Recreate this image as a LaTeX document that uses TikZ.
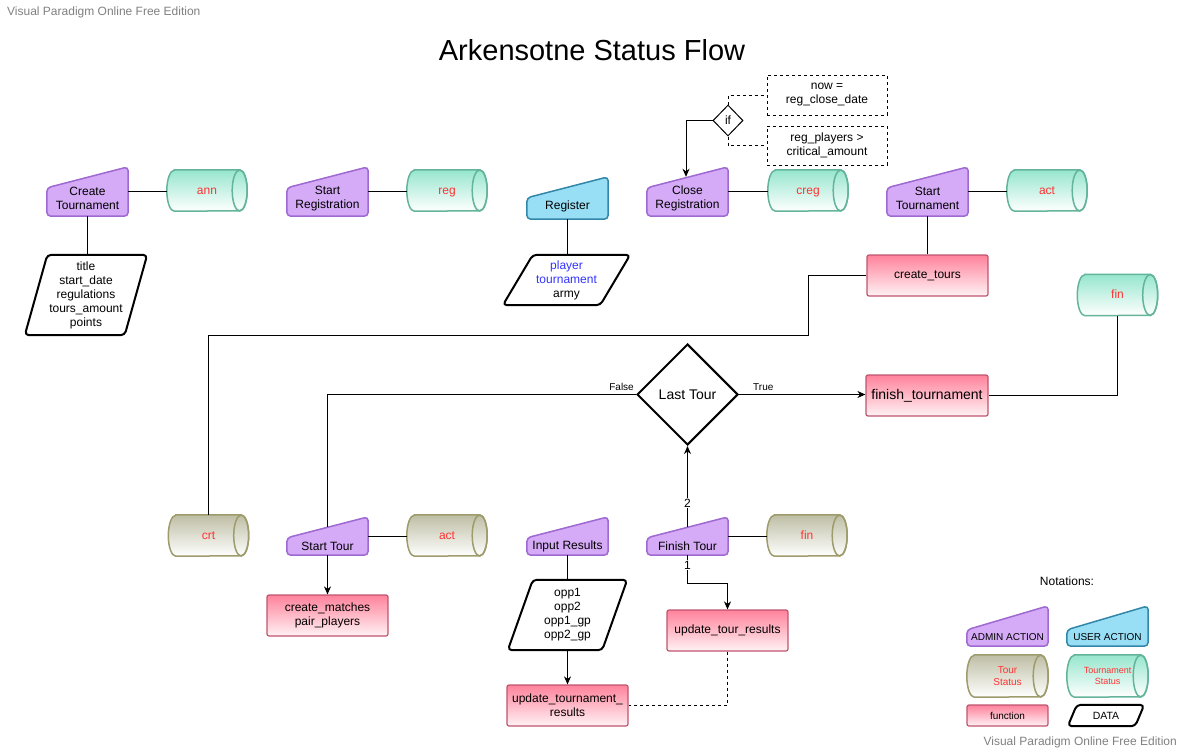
\documentclass[tikz,border=0pt]{standalone}
\usepackage{fontspec}
\setmainfont{Liberation Sans}
\usetikzlibrary{shapes.geometric,arrows.meta}
\pgfdeclarelayer{background}
\pgfsetlayers{background,main}

\definecolor{admfill}{RGB}{213,170,246}
\definecolor{admline}{RGB}{158,105,208}
\definecolor{usrfill}{RGB}{152,223,246}
\definecolor{usrline}{RGB}{50,135,168}
\definecolor{tealtop}{RGB}{150,230,205}
\definecolor{tealline}{RGB}{100,180,155}
\definecolor{olivetop}{RGB}{190,190,165}
\definecolor{oliveline}{RGB}{158,156,108}
\definecolor{pinktop}{RGB}{255,130,155}
\definecolor{pinkbot}{RGB}{255,242,245}
\definecolor{pinkline}{RGB}{190,85,110}
\definecolor{statred}{RGB}{255,51,51}
\definecolor{argblue}{RGB}{51,51,255}
\definecolor{wmgray}{RGB}{128,128,128}

% horizontal cylinder around a named node: node, top colour, line colour, half height
\newcommand\drawcyl[4]{%
  \path[top color=#2, bottom color=white, draw=#3, line width=1.5pt]
    ([xshift=7.5pt]#1.north west) -- ([xshift=-7.5pt]#1.north east)
    arc[start angle=90, end angle=-90, x radius=7.5pt, y radius=#4]
    -- ([xshift=7.5pt]#1.south west)
    arc[start angle=270, end angle=90, x radius=7.5pt, y radius=#4] -- cycle;
  \path[draw=#3, line width=1.5pt] ([xshift=-7.5pt]#1.east) ellipse[x radius=7.5pt, y radius=#4];
}
% slanted parallelogram around a named node: node, horizontal offset
\newcommand\drawdata[2]{%
  \path[draw=black, fill=white, line width=2pt, rounded corners=4pt, line join=round]
    ([xshift=#2]#1.north west) -- (#1.north east) -- ([xshift=-#2]#1.south east)
    -- (#1.south west) -- cycle;
}
% manual-input shape around a named node: node, fill, line, drop of the top edge
\newcommand\drawmanual[4]{%
  \path[fill=#2, draw=#3, line width=1.5pt, rounded corners=4pt, line join=round]
    (#1.south west) -- ([yshift=-#4]#1.north west) -- (#1.north east)
    -- (#1.south east) -- cycle;
}

\begin{document}
\begin{tikzpicture}[x=1pt,y=-1pt,
  txt/.style={font=\fontsize{12}{14}\selectfont, align=center, inner sep=0pt},
  actshape/.style={txt, minimum width=81, minimum height=#1},
  mlbl/.style={txt, yshift=#1},
  cylbase/.style={txt, text=statred, minimum width=80, minimum height=41},
  cyl/.style={cylbase, text height=9pt, text depth=2pt},
  datan/.style={txt, minimum width=#1},
  func/.style={txt, draw=pinkline, line width=1.2pt, rounded corners=2pt,
    top color=pinktop, bottom color=pinkbot, minimum width=121, minimum height=41},
  dashbox/.style={txt, draw, dashed, line width=0.8pt, minimum width=120, minimum height=40},
  conn/.style={draw=black, line width=1pt},
  arr/.style={conn, -{Stealth[length=8pt, width=7pt, inset=2.5pt]}},
  elbl/.style={font=\fontsize{10}{12}\selectfont, inner sep=1pt},
  numlbl/.style={font=\fontsize{12}{14}\selectfont, inner sep=1pt, fill=white},
  wm/.style={font=\fontsize{12}{14}\selectfont, text=wmgray, inner sep=0pt}
]
\useasboundingbox (0,0) rectangle (1183,752);

% headings
\node[wm, anchor=west] (wmtop) at (7,12) {Visual Paradigm Online Free Edition};
\node[wm, anchor=east] (wmbot) at (1177,742) {Visual Paradigm Online Free Edition};
\node[font=\fontsize{29}{34}\selectfont, inner sep=0pt] (title) at (592,50) {Arkensotne Status Flow};

% top row: actions
\node[actshape=49, label={[mlbl=-7pt]center:Create\\Tournament}] (ct) at (87.5,191.5) {};
\node[actshape=49, label={[mlbl=-7pt]center:Start\\Registration}] (sr) at (327.5,191.5) {};
\node[actshape=42, label={[mlbl=-8.5pt]center:Register}] (reg) at (567.5,198) {};
\node[actshape=49, label={[mlbl=-7pt]center:Close\\Registration}] (cr) at (687.5,191.5) {};
\node[actshape=49, label={[mlbl=-7pt]center:Start\\Tournament}] (stt) at (927.5,191.5) {};

% tournament states
\node[cyl] (ann) at (207,190.5) {ann};
\node[cyl] (regc) at (447,190.5) {reg};
\node[cyl] (creg) at (808,190.5) {creg};
\node[cyl] (act) at (1047,190.5) {act};
\node[cyl] (fin) at (1117.5,295) {fin};

% data
\node[datan=122, minimum height=80] (d1) at (86,295) {title\\start\_date\\regulations\\tours\_amount\\points};
\node[datan=127, minimum height=50] (d2) at (566.5,280) {\textcolor{argblue}{player}\\\textcolor{argblue}{tournament}\\army};
\node[datan=119, minimum height=70] (d3) at (567.5,615) {opp1\\opp2\\opp1\_gp\\opp2\_gp};

% closing condition
\node[diamond, draw, line width=1pt, minimum width=30, minimum height=31, txt] (ifd) at (728,120.5) {if};
\node[dashbox] (b1) at (827,95) {now =\\reg\_close\_date};
\node[dashbox, minimum height=39] (b2) at (827,145.5) {reg\_players \textgreater\\critical\_amount};

% functions
\node[func] (ctours) at (927.5,275.5) {create\_tours};
\node[func, minimum width=122, font=\fontsize{14}{16}\selectfont] (fint) at (927,395.5) {finish\_tournament};
\node[func] (cm) at (327.5,615.5) {create\_matches\\pair\_players};
\node[func] (utr) at (727.5,630.5) {update\_tour\_results};
\node[func] (utmr) at (567.5,705.5) {update\_tournament\_\\results};

% tour loop
\node[diamond, draw, line width=2pt, minimum width=101, minimum height=101, inner sep=0pt,
  font=\fontsize{14}{16}\selectfont] (ld) at (687.5,394.5) {Last Tour};
\node[actshape=38, label={[mlbl=-10.5pt]center:Start Tour}] (st) at (327.5,536) {};
\node[actshape=38, label={[mlbl=-10.5pt]center:Input Results}] (ir) at (567.5,536) {};
\node[actshape=38, label={[mlbl=-10.5pt]center:Finish Tour}] (ft) at (687.5,536) {};
\node[cyl] (crt) at (208.5,535.5) {crt};
\node[cyl] (act2) at (447,535.5) {act};
\node[cyl] (fin2) at (807,535.5) {fin};

% legend
\node[font=\fontsize{12}{14}\selectfont, inner sep=0pt] (notes) at (1067,581) {Notations:};
\node[actshape=40, label={[txt, font=\fontsize{10}{12}\selectfont, yshift=-11pt]center:ADMIN ACTION}] (lgadm) at (1007.5,626) {};
\node[actshape=40, label={[txt, font=\fontsize{10}{12}\selectfont, yshift=-11pt]center:USER ACTION}] (lgusr) at (1107.5,626) {};
\node[cylbase, minimum width=81, minimum height=42, font=\fontsize{10}{12}\selectfont] (lgtour) at (1007.5,676) {Tour\\Status};
\node[cylbase, minimum width=81, minimum height=42, font=\fontsize{9}{11}\selectfont] (lgtmt) at (1107.5,676) {Tournament\\Status};
\node[func, minimum width=81, minimum height=21, font=\fontsize{10}{12}\selectfont] (lgfun) at (1007.5,715.5) {function};
\node[datan=76, minimum height=21, font=\fontsize{10.5}{12}\selectfont] (lgdat) at (1106,715.5) {DATA};

% shapes behind the texts
\begin{pgfonlayer}{background}
  \foreach \n in {ct,sr,cr,stt,st,ir,ft}{\drawmanual{\n}{admfill}{admline}{21pt}}
  \drawmanual{reg}{usrfill}{usrline}{21pt}
  \drawmanual{lgadm}{admfill}{admline}{24pt}
  \drawmanual{lgusr}{usrfill}{usrline}{24pt}
  \foreach \n in {ann,regc,creg,act,fin}{\drawcyl{\n}{tealtop}{tealline}{20.5pt}}
  \foreach \n in {crt,act2,fin2}{\drawcyl{\n}{olivetop}{oliveline}{20.5pt}}
  \drawcyl{lgtour}{olivetop}{oliveline}{21pt}
  \drawcyl{lgtmt}{tealtop}{tealline}{21pt}
  \drawdata{d1}{22.5pt}
  \drawdata{d2}{30pt}
  \drawdata{d3}{25pt}
  \drawdata{lgdat}{9pt}
\end{pgfonlayer}

% registration connectors
\draw[conn] (ct.east) -- (ct.east -| ann.west);
\draw[conn] (ct.south) -- (ct.south |- d1.north);
\draw[conn] (sr.east) -- (sr.east -| regc.west);
\draw[conn] (reg.south) -- (reg.south |- d2.north);
\draw[conn] (cr.east) -- (cr.east -| creg.west);
\draw[conn, dashed] (ifd.north) |- (b1.west);
\draw[conn, dashed] (ifd.south) |- (b2.west);
\draw[arr] (ifd.west) -| ([xshift=-1.5pt, yshift=-10pt]cr.north);
\draw[conn] (stt.east) -- (stt.east -| act.west);
\draw[conn] (stt.south) -- (ctours.north);

% tournament to tours
\coordinate (bend) at (808,335);
\draw[conn] (ctours.west) -| (bend) -| (crt.north);
\draw[conn] (fin.south) |- (fint.east);
\draw[arr] (ld.east) -- (ld.east -| fint.west);
\node[elbl, anchor=south west] (ltrue) at ([xshift=13pt, yshift=3pt]ld.east) {True};
\draw[conn] (ld.west) -| ([yshift=-10.5pt]st.north);
\node[elbl, anchor=south east] (lfalse) at ([xshift=-1pt, yshift=3pt]ld.west) {False};

% tour steps
\draw[conn] (st.east) -- (st.east -| act2.west);
\draw[arr] (st.south) -- (cm.north);
\draw[conn] (ir.south) -- (d3.north);
\draw[arr] (d3.south) -- (d3.south |- utmr.north);
\draw[conn] (ft.east) -- (ft.east -| fin2.west);
\draw[arr] ([yshift=-10.5pt]ft.north) -- node[numlbl, pos=0.3] (two) {2} (ld.south);
\coordinate (down1) at (687.5,583);
\draw[arr] (ft.south) -- node[numlbl, pos=0.35] (one) {1} (down1) -| (utr.north);
\draw[conn, dashed] (utr.south) |- (utmr.east);

\end{tikzpicture}
\end{document}
